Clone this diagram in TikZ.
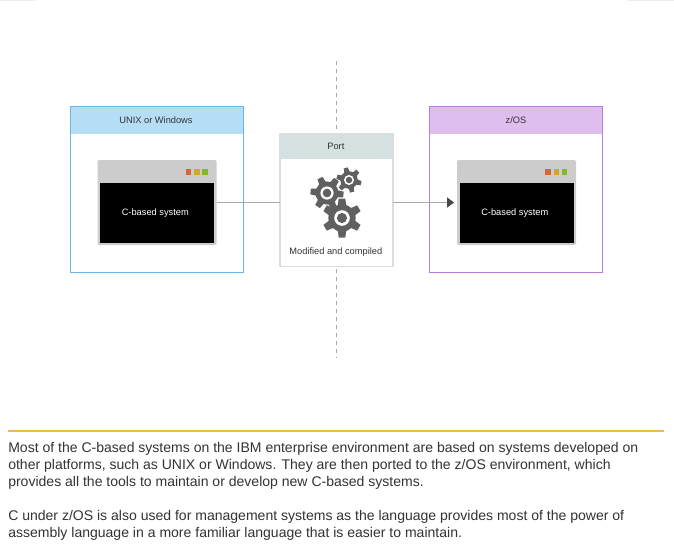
\documentclass[tikz,border=0pt]{standalone}
\usepackage{fontspec}
\setmainfont{Liberation Sans}
\usetikzlibrary{arrows.meta, positioning, calc}
\definecolor{unixline}{HTML}{6DB6E8}
\definecolor{unixfill}{HTML}{B5DDF5}
\definecolor{zosline}{HTML}{B67FD8}
\definecolor{zosfill}{HTML}{DFBDEE}
\definecolor{portline}{HTML}{DDDDDD}
\definecolor{portfill}{HTML}{D5E0E0}
\definecolor{shellgray}{HTML}{CCCCCC}
\definecolor{geargray}{HTML}{606060}
\definecolor{linkgray}{HTML}{A8A8A8}
\definecolor{inkgray}{HTML}{333333}
\definecolor{rulegold}{HTML}{F4BA45}
\definecolor{lampred}{HTML}{D2693C}
\definecolor{lampyellow}{HTML}{D0A92B}
\definecolor{lampgreen}{HTML}{84B82A}
\newcommand{\sysname}{\hspace*{-2.6pt}\raisebox{-0.7pt}{C-based system}}
\tikzstyle{label} = [font=\fontsize{6.95}{8.4}\selectfont, text=inkgray, inner sep=0pt, outer sep=0pt]
\tikzstyle{platform} = [draw, fill=white, line width=0.75pt, minimum width=129.75pt, minimum height=124.5pt, outer sep=0pt]
\tikzstyle{header} = [label, minimum width=129pt, minimum height=20.25pt]
\tikzstyle{shell} = [fill=shellgray, rounded corners=1.5pt, minimum width=89.25pt, minimum height=63.75pt, outer sep=0pt, inner sep=0pt]
\tikzstyle{screen} = [label, fill=black, text=white, minimum width=85.5pt, minimum height=45pt]
\tikzstyle{lamp} = [minimum size=4.1pt, inner sep=0pt, outer sep=0pt]
\tikzstyle{link} = [draw=linkgray, line width=0.6pt]
\newcommand{\portgear}[4]{%
	\foreach \a in {0,60,...,300}
		\fill[geargray, rotate around={#4+\a:(#1,#2)}] ($(#1,#2)+(-0.3*#3,0)$) -- ($(#1,#2)+(-0.17*#3,-#3)$) -- ($(#1,#2)+(0.17*#3,-#3)$) -- ($(#1,#2)+(0.3*#3,0)$) -- cycle;
	\fill[geargray] (#1,#2) circle ({0.7*#3*0.75pt});
	\fill[white] (#1,#2) circle ({0.4*#3*0.75pt});
	\fill[geargray] (#1,#2) circle ({0.26*#3*0.75pt});
}

\begin{document}
\begin{tikzpicture}[x=0.75pt, y=-0.75pt]
	\useasboundingbox (0,0) rectangle (674,554);
	\fill[white] (0,0) rectangle (674,554);
	\coordinate (markAl) at (0,0.5);
	\coordinate (markAr) at (35,0.5);
	\coordinate (markBl) at (628,0.5);
	\coordinate (markBr) at (674,0.5);
	\draw[black!7, line width=0.75pt] (markAl) -- (markAr) (markBl) -- (markBr);

	% divider behind the port
	\coordinate (divtop) at (336.5,61);
	\coordinate (divbot) at (336.5,358);
	\draw[linkgray, line width=0.6pt, dash pattern=on 3pt off 3pt] (divtop) -- (divbot);

	% left platform
	\node [platform, draw=unixline] (unixbox) at (157,189) {};
	\node [header, fill=unixfill, below=0.4pt of unixbox.north] (unixhead) {\hspace*{-1.5pt}UNIX or Windows};
	\node [shell] (unixshell) at (157,202.5) {};
	\node [screen, above=1.5pt of unixshell.south] (unixscreen) {\sysname};
	\node [lamp, fill=lampred] (unixred) at (188.5,172) {};
	\node [lamp, fill=lampyellow, right=2.1pt of unixred] (unixyellow) {};
	\node [lamp, fill=lampgreen, right=2.1pt of unixyellow] (unixgreen) {};

	% right platform
	\node [platform, draw=zosline] (zosbox) at (516,189) {};
	\node [header, fill=zosfill, below=0.4pt of zosbox.north] (zoshead) {z/OS};
	\node [shell] (zosshell) at (516.5,202.5) {};
	\node [screen, above=1.5pt of zosshell.south] (zosscreen) {\sysname};
	\node [lamp, fill=lampred] (zosred) at (548,172) {};
	\node [lamp, fill=lampyellow, right=2.1pt of zosred] (zosyellow) {};
	\node [lamp, fill=lampgreen, right=2.1pt of zosyellow] (zosgreen) {};

	% port in the middle
	\node [platform, draw=portline, line width=1.1pt, minimum width=84.5pt, minimum height=100pt] (port) at (336.5,200) {};
	\node [header, fill=portfill, minimum width=83.5pt, minimum height=19pt, below=0.5pt of port.north] (porthead) {\hspace*{-1pt}Port};
	\node [label, above=8pt of port.south] (portnote) {\hspace*{-1pt}Modified and compiled};
	\portgear{342}{218}{19.5}{0}
	\portgear{327}{193}{16.5}{25}
	\portgear{349}{180}{12.5}{15}

	\draw [link] (unixshell.east) -- (unixshell.east -| port.west);
	\draw [link, -{Triangle[length=5.2pt, width=7.5pt, color=inkgray!90]}, shorten >=2.2pt] (zosshell.west -| port.east) -- (zosshell.west);

	% text below the picture
	\coordinate (rulel) at (8,431);
	\coordinate (ruler) at (664,431);
	\draw[rulegold, line width=1.1pt] (rulel) -- (ruler);
	\node [anchor=north west, inner sep=0pt, align=left, text=inkgray, font=\fontsize{10.52}{12.75}\selectfont] (note) at (8,442.5) {%
		Most of the C-based systems on the IBM enterprise environment are based on systems developed on\\
		other platforms, such as UNIX or Windows. They are then ported to the z/OS environment, which\\
		provides all the tools to maintain or develop new C-based systems.\\[12.75pt]
		C under z/OS is also used for management systems as the language provides most of the power of\\
		assembly language in a more familiar language that is easier to maintain.};
\end{tikzpicture}
\end{document}
